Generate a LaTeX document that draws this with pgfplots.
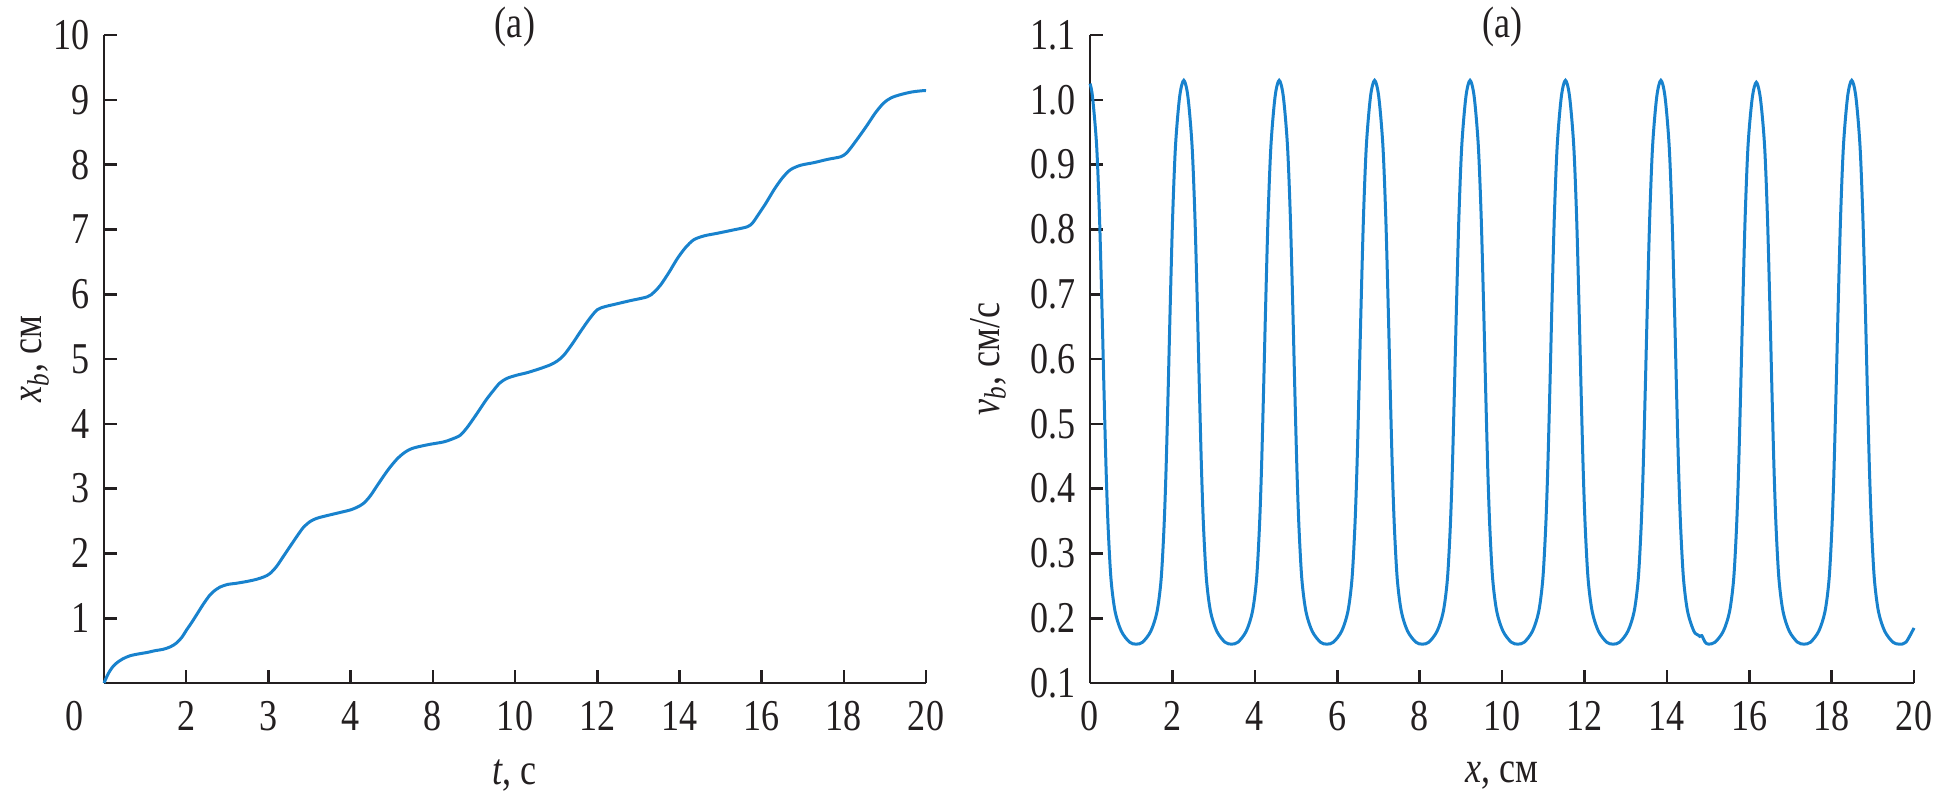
\documentclass[border=0pt]{standalone}
\usepackage{fontspec}
\setmainfont[FakeStretch=0.82]{Liberation Serif}
\usepackage{pgfplots}
\pgfplotsset{compat=1.18}
\definecolor{curve}{RGB}{24,130,205}
\definecolor{ink}{RGB}{35,31,32}
\newcommand{\fs}{\fontsize{11}{13}\selectfont}
\begin{document}
\begin{tikzpicture}[font=\fs]
\useasboundingbox (0,0) rectangle (484pt,198.5pt);
\pgfplotsset{
  every axis/.append style={
    scale only axis, axis lines=left, axis line style={-, ink, line width=0.65pt},
    tick align=inside, major tick length=3.3pt,
    every tick/.style={ink, line width=0.65pt},
    tick label style={font=\fs, text=ink},
    label style={font=\fs, text=ink},
    xticklabel style={yshift=-1pt},
    /pgf/number format/assume math mode=true,
    height=162pt, clip=false,
    xlabel style={at={(axis description cs:0.5,-0.1435)}, anchor=center},
  }
}
% left panel
\begin{axis}[
  at={(26pt,27.75pt)}, anchor=south west, width=205.5pt,
  xmin=0, xmax=20, ymin=0, ymax=10,
  xtick={2,4,...,20}, xticklabels={2,3,4,8,10,12,14,16,18,20},
  extra x ticks={0}, extra x tick labels={0},
  extra x tick style={major tick length=0pt, xticklabel style={xshift=-7.25pt}},
  ytick={1,2,...,10},
  xlabel={\textit{t}, с},
  ylabel={\textit{x}\textsubscript{\textit{b}}, см},
  ylabel style={at={(axis description cs:-0.0839,0.5)}, anchor=center},
]
\node[font=\fs, text=ink, anchor=center] at (rel axis cs:0.5,1.0123) {(a)};
\addplot[curve, line width=0.75pt, smooth, tension=0.5] table {
0 0
0.1 0.14
0.2 0.24
0.31 0.31
0.45 0.37
0.63 0.42
0.85 0.45
1.04 0.47
1.25 0.50
1.44 0.52
1.62 0.56
1.77 0.62
1.9 0.71
2.01 0.82
2.13 0.93
2.25 1.05
2.42 1.22
2.58 1.36
2.72 1.44
2.82 1.48
3.0 1.52
3.23 1.54
3.5 1.57
3.71 1.60
3.9 1.64
4.04 1.69
4.2 1.80
4.36 1.95
4.53 2.11
4.69 2.26
4.85 2.40
5.01 2.49
5.17 2.54
5.34 2.57
5.6 2.61
5.8 2.64
5.99 2.67
6.15 2.71
6.31 2.77
6.47 2.88
6.63 3.03
6.8 3.19
6.96 3.33
7.15 3.47
7.32 3.56
7.46 3.61
7.61 3.64
7.9 3.68
8.26 3.72
8.45 3.76
8.66 3.82
8.82 3.93
8.99 4.08
9.15 4.23
9.31 4.38
9.47 4.51
9.63 4.63
9.8 4.70
10.04 4.75
10.3 4.79
10.6 4.85
10.86 4.91
11.03 4.97
11.19 5.06
11.39 5.23
11.59 5.42
11.8 5.61
12.0 5.76
12.2 5.81
12.40 5.84
12.8 5.90
13.22 5.96
13.38 6.03
13.54 6.14
13.75 6.34
13.95 6.55
14.15 6.72
14.35 6.84
14.6 6.90
14.92 6.94
15.3 6.99
15.65 7.04
15.78 7.10
15.89 7.20
16.1 7.40
16.30 7.61
16.5 7.79
16.70 7.92
16.95 7.99
17.27 8.03
17.6 8.08
17.92 8.12
18.05 8.17
18.16 8.25
18.37 8.43
18.57 8.61
18.77 8.80
18.97 8.95
19.15 9.03
19.38 9.08
19.65 9.12
19.91 9.14
20.0 9.14
};
\end{axis}
% right panel
\begin{axis}[
  at={(272.5pt,27.75pt)}, anchor=south west, width=206pt,
  xmin=0, xmax=20, ymin=0.1, ymax=1.1,
  xtick={0,2,...,20},
  ytick={0.1,0.2,0.3,0.4,0.5,0.6,0.7,0.8,0.9,1.0,1.1},
  yticklabel style={/pgf/number format/.cd, fixed, fixed zerofill, precision=1},
  xlabel={\textit{x}, см},
  ylabel={\textit{v}\textsubscript{\textit{b}}, см/с},
  ylabel style={at={(axis description cs:-0.1238,0.5)}, anchor=center},
]
\node[font=\fs, text=ink, anchor=center] at (rel axis cs:0.5,1.0123) {(a)};
\addplot[curve, line width=0.75pt, smooth, tension=0.5] table {
0 1.025
0.06 1.005
0.16 0.93
0.23 0.82
0.29 0.68
0.34 0.55
0.39 0.43
0.44 0.34
0.51 0.26
0.61 0.21
0.76 0.18
0.96 0.163
1.118 0.160
1.276 0.163
1.476 0.18
1.626 0.21
1.726 0.26
1.796 0.34
1.846 0.43
1.896 0.55
1.946 0.68
2.006 0.82
2.076 0.93
2.176 1.005
2.276 1.03
2.376 1.005
2.476 0.93
2.546 0.82
2.606 0.68
2.656 0.55
2.706 0.43
2.756 0.34
2.826 0.26
2.926 0.21
3.076 0.18
3.276 0.163
3.434 0.160
3.592 0.163
3.792 0.18
3.942 0.21
4.042 0.26
4.112 0.34
4.162 0.43
4.212 0.55
4.262 0.68
4.322 0.82
4.392 0.93
4.492 1.005
4.592 1.03
4.692 1.005
4.792 0.93
4.862 0.82
4.922 0.68
4.972 0.55
5.022 0.43
5.072 0.34
5.142 0.26
5.242 0.21
5.392 0.18
5.592 0.163
5.750 0.160
5.908 0.163
6.108 0.18
6.258 0.21
6.358 0.26
6.428 0.34
6.478 0.43
6.528 0.55
6.578 0.68
6.638 0.82
6.708 0.93
6.808 1.005
6.908 1.03
7.008 1.005
7.108 0.93
7.178 0.82
7.238 0.68
7.288 0.55
7.338 0.43
7.388 0.34
7.458 0.26
7.558 0.21
7.708 0.18
7.908 0.163
8.066 0.160
8.224 0.163
8.424 0.18
8.574 0.21
8.674 0.26
8.744 0.34
8.794 0.43
8.844 0.55
8.894 0.68
8.954 0.82
9.024 0.93
9.124 1.005
9.224 1.03
9.324 1.005
9.424 0.93
9.494 0.82
9.554 0.68
9.604 0.55
9.654 0.43
9.704 0.34
9.774 0.26
9.874 0.21
10.024 0.18
10.224 0.163
10.382 0.160
10.540 0.163
10.740 0.18
10.890 0.21
10.990 0.26
11.060 0.34
11.110 0.43
11.160 0.55
11.210 0.68
11.270 0.82
11.340 0.93
11.440 1.005
11.540 1.03
11.640 1.005
11.740 0.93
11.810 0.82
11.870 0.68
11.920 0.55
11.970 0.43
12.020 0.34
12.090 0.26
12.190 0.21
12.340 0.18
12.540 0.163
12.698 0.160
12.856 0.163
13.056 0.18
13.206 0.21
13.306 0.26
13.376 0.34
13.426 0.43
13.476 0.55
13.526 0.68
13.586 0.82
13.656 0.93
13.756 1.005
13.856 1.03
13.956 1.005
14.056 0.93
14.126 0.82
14.186 0.68
14.236 0.55
14.286 0.43
14.336 0.34
14.406 0.26
14.506 0.21
14.656 0.18
14.760 0.174
14.800 0.172
14.850 0.173
14.930 0.163
15.014 0.160
15.172 0.163
15.372 0.18
15.522 0.21
15.622 0.26
15.692 0.34
15.742 0.43
15.792 0.55
15.842 0.68
15.902 0.82
15.972 0.93
16.072 1.002
16.172 1.027
16.272 1.002
16.372 0.93
16.442 0.82
16.502 0.68
16.552 0.55
16.602 0.43
16.652 0.34
16.722 0.26
16.822 0.21
16.972 0.18
17.172 0.163
17.330 0.160
17.488 0.163
17.688 0.18
17.838 0.21
17.938 0.26
18.008 0.34
18.058 0.43
18.108 0.55
18.158 0.68
18.218 0.82
18.288 0.93
18.388 1.005
18.488 1.03
18.588 1.005
18.688 0.93
18.758 0.82
18.818 0.68
18.868 0.55
18.918 0.43
18.968 0.34
19.038 0.26
19.138 0.21
19.288 0.18
19.488 0.163
19.646 0.160
19.804 0.163
20.0 0.185
};
\end{axis}
\end{tikzpicture}
\end{document}
